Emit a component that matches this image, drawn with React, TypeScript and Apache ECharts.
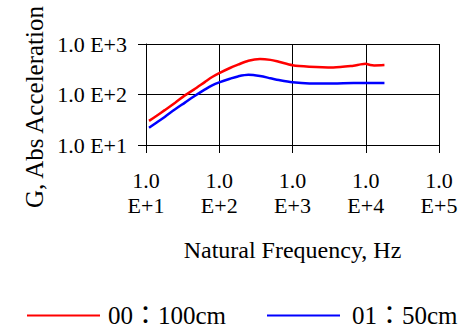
import React, { useEffect, useRef } from "react";
import * as echarts from "echarts";

const frequencies = [11, 14, 18, 25, 34, 45, 64, 80, 100, 140, 180, 250, 360, 500, 650, 1000, 1700, 3600, 6800, 8500, 10000, 11500, 13000, 18000];
const series100cm = [30, 38, 49, 69, 96, 125, 178, 222, 265, 335, 389, 467, 505, 485, 445, 380, 356, 344, 372, 395, 405, 385, 377, 383];
const series50cm = [22, 28, 36, 51, 69, 91, 126, 152, 174, 205, 228, 245, 232, 210, 193, 174, 166, 166, 169, 169, 169, 169, 169, 169];
const seriesNames = ["00：100cm", "01：50cm"];
const seriesColors = ["#ff0000", "#0000ff"];

const FONT = "Liberation Serif";
const LEGEND_FONT = "Liberation Serif, Noto Sans CJK JP";

export default function App() {
  const ref = useRef<HTMLDivElement>(null);
  useEffect(() => {
    if (!ref.current) return;
    const chart = echarts.init(ref.current, undefined, { renderer: "svg" });
    const seriesData = [series100cm, series50cm];
    chart.setOption({
      animation: false,
      backgroundColor: "#ffffff",
      textStyle: { fontFamily: FONT, color: "#000" },
      grid: { left: 146, right: 31, top: 44, bottom: 184, containLabel: false },
      legend: seriesNames.map((name, i) => ({
        data: [name],
        left: i === 0 ? 27 : 267,
        top: 303,
        padding: 0,
        icon: "rect",
        itemWidth: 73,
        itemHeight: 2,
        textStyle: {
          fontFamily: LEGEND_FONT,
          fontSize: 25,
          color: "#000",
          padding: [0, 0, 0, i === 0 ? 3 : 7],
        },
      })),
      xAxis: {
        type: "log",
        logBase: 10,
        min: 10,
        max: 100000,
        name: "Natural Frequency, Hz",
        nameLocation: "middle",
        nameGap: 93,
        nameTextStyle: { fontFamily: FONT, fontSize: 24, color: "#000" },
        axisLine: { show: true, lineStyle: { color: "#000", width: 1 } },
        axisTick: { show: true, inside: false, length: 8, lineStyle: { color: "#000" } },
        splitLine: { show: true, lineStyle: { color: "#000", width: 1 } },
        minorTick: { show: false },
        axisLabel: {
          fontFamily: FONT,
          fontSize: 22,
          color: "#000",
          lineHeight: 25,
          margin: 23,
          showMinLabel: true,
          showMaxLabel: true,
          formatter: (v: number) => `1.0\nE+${Math.round(Math.log10(v))}`,
        },
      },
      yAxis: {
        type: "log",
        logBase: 10,
        min: 10,
        max: 1000,
        axisLine: { show: true, lineStyle: { color: "#000", width: 1 } },
        axisTick: { show: true, inside: false, length: 8, lineStyle: { color: "#000" } },
        splitLine: { show: true, lineStyle: { color: "#000", width: 1 } },
        axisLabel: {
          fontFamily: FONT,
          fontSize: 22,
          color: "#000",
          margin: 19,
          showMinLabel: true,
          showMaxLabel: true,
          formatter: (v: number) => `1.0 E+${Math.round(Math.log10(v))}`,
        },
      },
      graphic: [
        {
          type: "text",
          x: 34,
          y: 107,
          rotation: Math.PI / 2,
          style: {
            text: "G, Abs Acceleration",
            fontFamily: FONT,
            fontSize: 25,
            fill: "#000",
            textAlign: "center",
            textVerticalAlign: "middle",
          },
        },
      ],
      series: seriesNames.map((name, i) => ({
        name,
        type: "line",
        smooth: 0.3,
        symbol: "none",
        lineStyle: { color: seriesColors[i], width: 2.5 },
        itemStyle: { color: seriesColors[i] },
        data: frequencies.map((f, j) => [f, seriesData[i][j]]),
      })),
    });
    return () => chart.dispose();
  }, []);
  return <div ref={ref} style={{ position: "fixed", left: 0, top: 0, width: 470, height: 329 }} />;
}
